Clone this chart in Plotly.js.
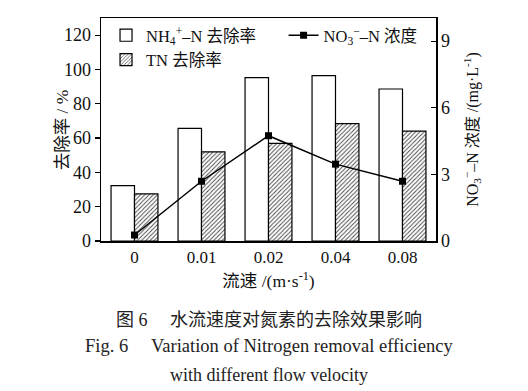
<!DOCTYPE html>
<html>
<head>
<meta charset="utf-8">
<script src="https://cdn.plot.ly/plotly-3.0.1.min.js"></script>
<style>html,body{margin:0;padding:0;background:#fff;}#chart{width:528px;height:391px;}</style>
</head>
<body>
<div id="chart"></div>
<script>
const categories = ["0", "0.01", "0.02", "0.04", "0.08"];
const nh4Removal = [32.3, 65.6, 95.2, 96.4, 88.6];
const tnRemoval = [27.5, 52.0, 56.9, 68.4, 64.1];
const no3Conc = [0.27, 2.69, 4.74, 3.46, 2.69];
const leftTicks = [0, 20, 40, 60, 80, 100, 120];
const rightTicks = [0, 3, 6, 9];

const FONT = "'Liberation Serif', 'Times New Roman', 'Noto Sans CJK SC', serif";

const traces = [
  {
    type: "bar", name: "NH<sub>4</sub><sup>+</sup>–N 去除率",
    x: categories, y: nh4Removal,
    marker: {color: "#ffffff", line: {color: "#000", width: 1.2}},
    legend: "legend"
  },
  {
    type: "bar", name: "TN 去除率",
    x: categories, y: tnRemoval,
    marker: {color: "#ffffff", line: {color: "#000", width: 1.2},
      pattern: {shape: "/", fgcolor: "#444", bgcolor: "#ffffff", size: 3, solidity: 0.3}},
    legend: "legend"
  },
  {
    type: "scatter", mode: "lines+markers", name: "NO<sub>3</sub><sup>−</sup>–N 浓度",
    x: categories, y: no3Conc, yaxis: "y2",
    line: {color: "#000", width: 1.5},
    marker: {symbol: "square", size: 7, color: "#000"},
    legend: "legend2"
  }
];

const layout = {
  width: 528, height: 391,
  margin: {l: 101, r: 92, t: 18, b: 150},
  paper_bgcolor: "#fff", plot_bgcolor: "#fff",
  font: {family: FONT, size: 16, color: "#111"},
  barmode: "group", bargap: 0.3, bargroupgap: 0,
  showlegend: true,
  legend: {x: 0.015, y: 1.0, xanchor: "left", yanchor: "top", bgcolor: "rgba(0,0,0,0)",
    font: {family: FONT, size: 16.5}, tracegroupgap: 0},
  legend2: {x: 0.545, y: 1.0, xanchor: "left", yanchor: "top", bgcolor: "rgba(0,0,0,0)",
    font: {family: FONT, size: 16.5}},
  xaxis: {
    type: "category", range: [-0.5, 4.5],
    showline: true, mirror: true, linecolor: "#000", linewidth: 1.5,
    ticks: "", showgrid: false, zeroline: false,
    tickfont: {family: FONT, size: 17},
    title: {text: "流速 /(m·s<sup>-1</sup>)", font: {family: FONT, size: 17.5}, standoff: 9}
  },
  yaxis: {
    range: [0, 130], tickvals: leftTicks, ticktext: leftTicks.map(String),
    showline: true, linecolor: "#000", linewidth: 1.5,
    ticks: "outside", ticklen: 5, tickcolor: "#000", tickwidth: 1.2,
    showgrid: false, zeroline: false,
    tickfont: {family: FONT, size: 18}
  },
  yaxis2: {
    range: [0, 10.04], tickvals: rightTicks, ticktext: rightTicks.map(String),
    overlaying: "y", side: "right",
    showline: true, linecolor: "#000", linewidth: 1.5,
    ticks: "inside", ticklen: 5, tickcolor: "#000", tickwidth: 1.2,
    showgrid: false, zeroline: false,
    tickfont: {family: FONT, size: 18},
    title: {text: "NO<sub>3</sub><sup>−</sup>–N 浓度 /(mg·L<sup>-1</sup>)", font: {family: FONT, size: 16}, standoff: 17}
  },
  annotations: [
    {text: "去除率 / %", xref: "paper", yref: "paper", x: -0.117, y: 0.5, textangle: -90,
      xanchor: "center", yanchor: "middle", showarrow: false, font: {family: FONT, size: 17.5}},
    {text: "图 6　 水流速度对氮素的去除效果影响", xref: "paper", yref: "paper", x: 0.5, y: -0.354,
      xanchor: "center", yanchor: "middle", showarrow: false, font: {family: FONT, size: 18, color: "#222"}},
    {text: "Fig. 6　 Variation of Nitrogen removal efficiency", xref: "paper", yref: "paper", x: 0.5, y: -0.471,
      xanchor: "center", yanchor: "middle", showarrow: false, font: {family: FONT, size: 18.5, color: "#222"}},
    {text: "with different flow velocity", xref: "paper", yref: "paper", x: 0.5, y: -0.601,
      xanchor: "center", yanchor: "middle", showarrow: false, font: {family: FONT, size: 18, color: "#222"}}
  ]
};

Plotly.newPlot("chart", traces, layout, {displayModeBar: false, staticPlot: true});
</script>
</body>
</html>
